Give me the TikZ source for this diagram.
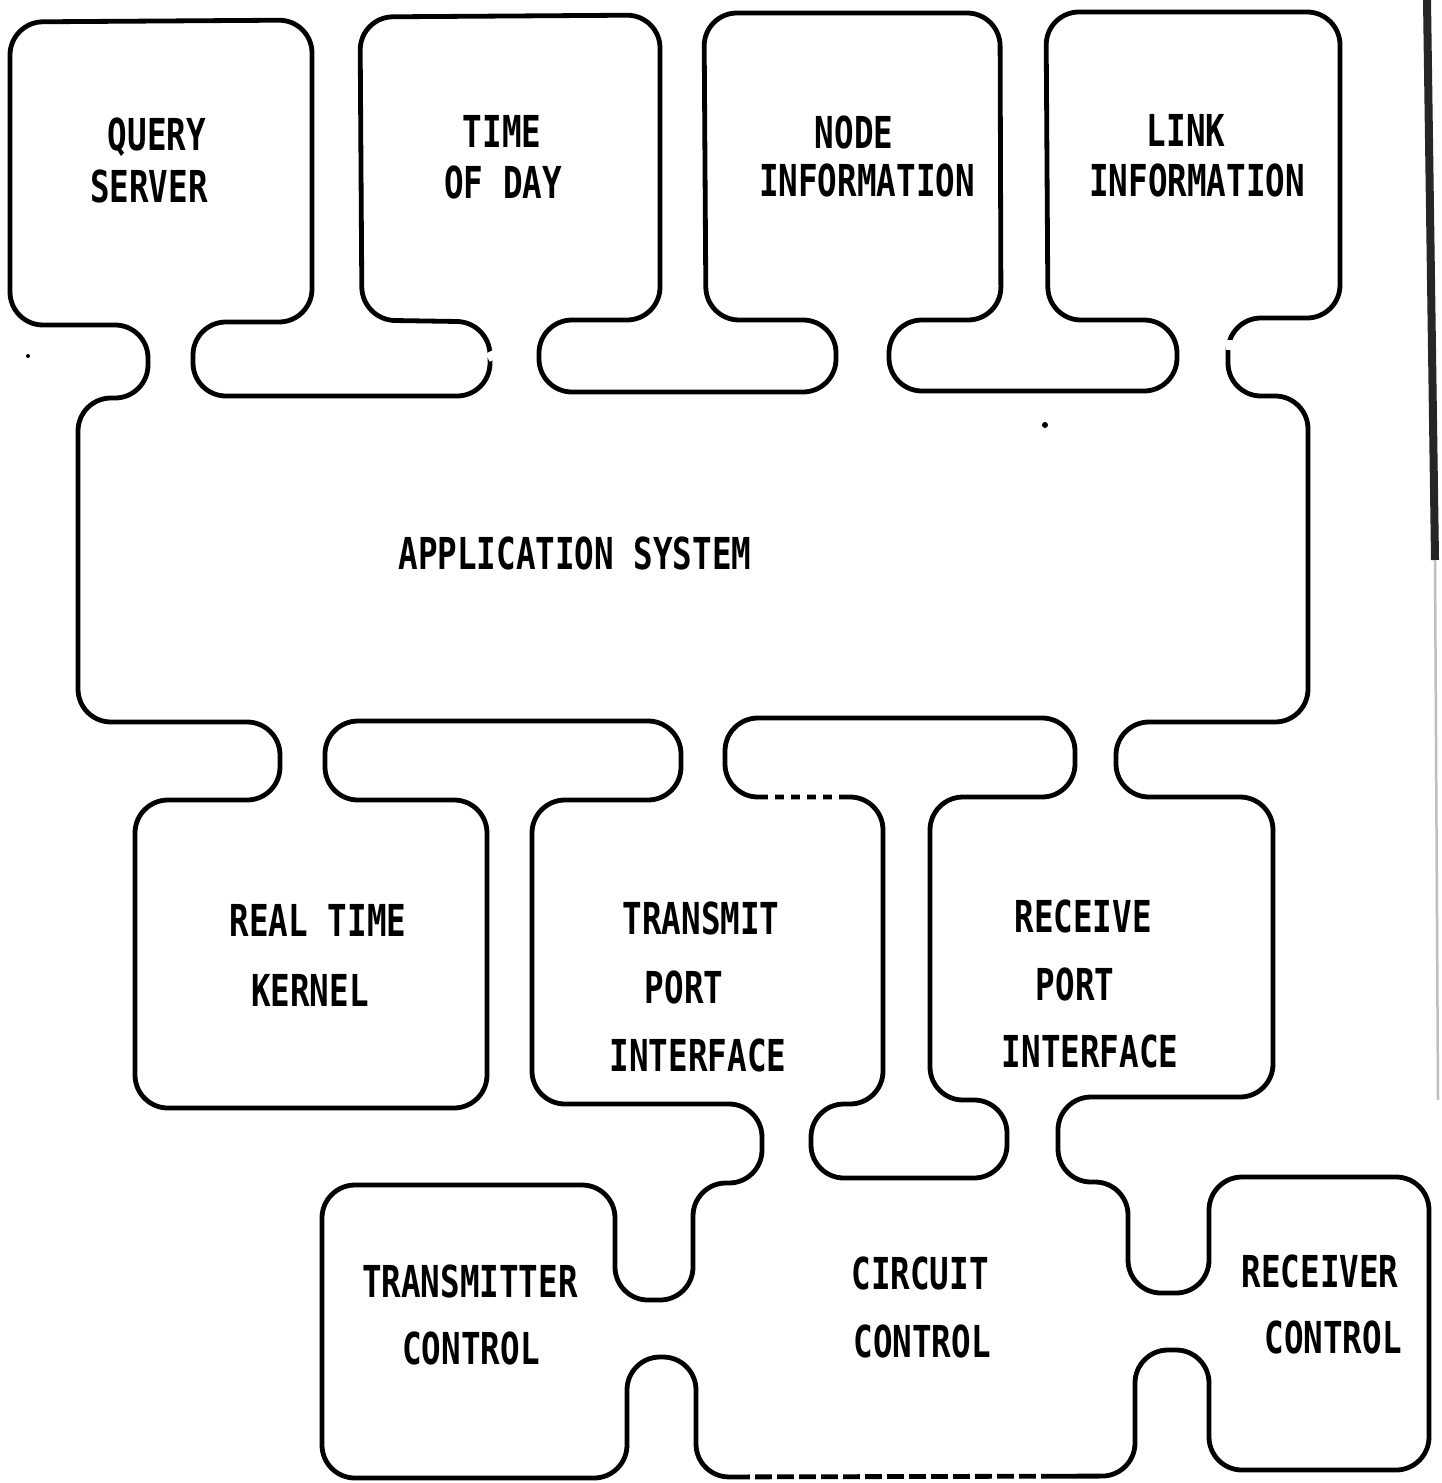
\documentclass[tikz,border=0pt]{standalone}
\usepackage{fontspec}
\newfontfamily\plotfont[FakeStretch=0.74]{DejaVu Sans Mono}
\begin{document}
\begin{tikzpicture}[x=1pt,y=-1pt,
  outline/.style={line width=4.8pt, rounded corners=33pt, line join=round, line cap=round},
  gapw/.style={white, line width=7.5pt},
  lbl/.style={font=\plotfont\bfseries\fontsize{44}{50}\selectfont, inner sep=0pt, anchor=base}]
\fill[white] (0,0) rectangle (1442,1483);
\useasboundingbox (0,0) rectangle (1442,1483);

% outer outline of all modules
\draw[outline] (10,170) -- (10,22) -- (312,20) -- (312,322) -- (193,322) -- (193,396) -- (490,396) -- (490,322)
  -- (362,320) -- (360,17) -- (660,15) -- (660,320) -- (539,320) -- (539,392) -- (836,392) -- (836,320)
  -- (706,320) -- (704,13) -- (1000,13) -- (1001,320) -- (889,320) -- (889,391) -- (1177,391) -- (1177,320)
  -- (1048,320) -- (1046,12) -- (1340,12) -- (1340,318) -- (1228,318) -- (1228,396) -- (1308,396)
  -- (1308,722) -- (1116,722) -- (1116,797) -- (1273,797) -- (1273,1097) -- (1058,1097) -- (1058,1182)
  -- (1128,1182) -- (1128,1293) -- (1209,1293) -- (1209,1177) -- (1429,1177) -- (1429,1470) -- (1209,1470)
  -- (1209,1350) -- (1135,1350) -- (1135,1476) -- (696,1477) -- (696,1357) -- (627,1357) -- (627,1478)
  -- (322,1478) -- (322,1185) -- (615,1185) -- (615,1300) -- (693,1300) -- (693,1183) -- (762,1183)
  -- (762,1104) -- (532,1104) -- (532,800) -- (681,800) -- (681,721) -- (325,721) -- (325,800) -- (487,800)
  -- (487,1108) -- (135,1108) -- (135,800) -- (280,800) -- (280,722) -- (78,722) -- (78,398) -- (148,398)
  -- (148,325) -- (10,325) -- cycle;

% inner pocket between transmit / receive port interfaces
\draw[outline] (883,950) -- (883,797) -- (725,797) -- (725,718) -- (1075,718) -- (1075,797) -- (930,797)
  -- (930,1100) -- (1007,1100) -- (1007,1178) -- (811,1178) -- (811,1104) -- (883,1104) -- cycle;

% broken / dotted parts of the drawn line
\draw[gapw, dash pattern=on 7pt off 9pt] (768,797) -- (846,797);
\draw[gapw, dash pattern=on 5pt off 17pt] (750,1477) -- (1045,1477);
\draw[gapw] (489,352) -- (493,360);
\draw[gapw] (1230,340) -- (1230,350);

% scan border and specks
\draw[line width=8pt, black!85] (1427,0) -- (1435,560);
\draw[line width=2.5pt, black!25] (1435,560) -- (1438,1100);
\fill (1045,425) circle (3pt);
\fill (28,356) circle (2pt);

% labels
\node[lbl] (q1) at (157,150) {QUERY};
\node[lbl] (q2) at (149,202) {SERVER};
\node[lbl] (t1) at (502,147) {TIME};
\node[lbl] (t2) at (503,198) {OF DAY};
\node[lbl] (n1) at (854,148) {NODE};
\node[lbl] (n2) at (867,196) {INFORMATION};
\node[lbl] (l1) at (1186,146) {LINK};
\node[lbl] (l2) at (1197,196) {INFORMATION};
\node[lbl] (app) at (575,569) {APPLICATION SYSTEM};
\node[lbl] (r1) at (318,936) {REAL TIME};
\node[lbl] (r2) at (310,1006) {KERNEL};
\node[lbl] (tp1) at (701,934) {TRANSMIT};
\node[lbl] (tp2) at (684,1003) {PORT};
\node[lbl] (tp3) at (698,1071) {INTERFACE};
\node[lbl] (rp1) at (1083,932) {RECEIVE};
\node[lbl] (rp2) at (1075,1000) {PORT};
\node[lbl] (rp3) at (1090,1067) {INTERFACE};
\node[lbl] (tc1) at (470,1297) {TRANSMITTER};
\node[lbl] (tc2) at (471,1364) {CONTROL};
\node[lbl] (cc1) at (920,1289) {CIRCUIT};
\node[lbl] (cc2) at (922,1357) {CONTROL};
\node[lbl] (rc1) at (1320,1287) {RECEIVER};
\node[lbl] (rc2) at (1333,1353) {CONTROL};
\end{tikzpicture}
\end{document}
